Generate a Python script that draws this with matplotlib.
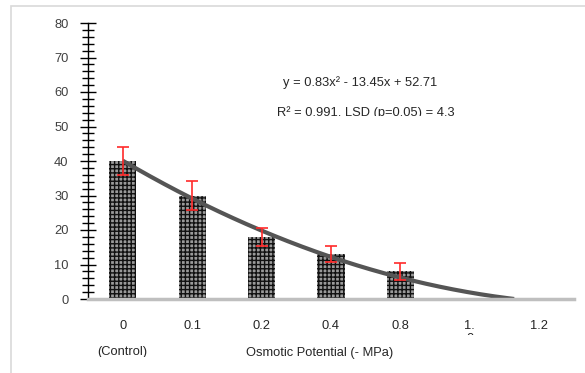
import matplotlib
matplotlib.use("Agg")
import matplotlib.pyplot as plt
import numpy as np
from matplotlib.patches import Rectangle
from matplotlib.transforms import Bbox

plt.rcParams['font.family'] = ['Liberation Sans Narrow', 'Liberation Sans', 'DejaVu Sans']
plt.rcParams['hatch.linewidth'] = 1.0

categories = ["0", "0.1", "0.2", "0.4", "0.8", "1.\n0", "1.2"]
bar_values = [40, 30, 18, 13, 8]
bar_errors = [4.2, 4.2, 2.5, 2.3, 2.5]
trend_coeffs = [0.83, -13.45, 52.71]  # y = a x^2 + b x + c, x = category number (1..)
y_ticks = [0, 10, 20, 30, 40, 50, 60, 70, 80]

W, H = 585, 373
FS = 9.3
fig = plt.figure(figsize=(W / 100, H / 100), dpi=100)
ax = fig.add_axes([88 / W, (H - 299) / H, (574 - 88) / W, (299 - 23) / H])

xpos = np.arange(len(bar_values))
ax.bar(xpos, bar_values, width=0.39, color='#9a9a9a', edgecolor='#111111',
       hatch='++++', linewidth=0, zorder=2)
ax.errorbar(xpos, bar_values, yerr=bar_errors, fmt='none', ecolor='#ff2a2a',
            elinewidth=1.2, capsize=4, capthick=1.2, zorder=4)

# polynomial trendline (from displayed equation), drawn until it reaches zero
a, b, c = trend_coeffs
root = (-b - np.sqrt(b * b - 4 * a * c)) / (2 * a)
xt = np.linspace(1, root, 200)
yt = a * xt ** 2 + b * xt + c
ax.plot(xt - 1, yt, color='#555555', lw=3, zorder=3, solid_capstyle='butt')

ax.set_xlim(-0.5, len(categories) - 0.5)
ax.set_ylim(0, 80)
ax.set_yticks(y_ticks)
ax.set_yticks(np.arange(0, 81, 2), minor=True)
ax.set_xticks(np.arange(len(categories)))
ax.set_xticklabels(categories)

for s in ['top', 'right']:
    ax.spines[s].set_visible(False)
ax.spines['left'].set_color('#000000')
ax.spines['left'].set_linewidth(1.0)
ax.spines['bottom'].set_color('#bfbfbf')
ax.spines['bottom'].set_linewidth(2.5)
ax.spines['bottom'].set_zorder(5)

ax.tick_params(axis='y', which='major', direction='inout', length=12, width=1,
               labelsize=FS, labelcolor='#404040', pad=8)
ax.tick_params(axis='y', which='minor', direction='inout', length=8, width=1)
ax.tick_params(axis='x', which='both', length=0, labelsize=FS, labelcolor='#262626', pad=15)

clipbox = Bbox([[0, H - 335], [W, H]])
for lbl in ax.get_xticklabels():
    lbl.set_linespacing(1.15)
    lbl.set_verticalalignment('top')
    lbl.set_clip_on(True)
    lbl.set_clip_box(clipbox)

t1 = fig.text(122 / W, 1 - 352 / H, "(Control)", ha='center', va='center',
              fontsize=FS, color='#262626')
t1.set_clip_on(True)
t1.set_clip_box(Bbox([[0, H - 357], [W, H]]))
fig.text(320 / W, 1 - 353 / H, "Osmotic Potential (- MPa)", ha='center', va='center',
         fontsize=FS, color='#262626')

fig.text(360 / W, 1 - 83 / H, "y = 0.83x² - 13.45x + 52.71", ha='center', va='center',
         fontsize=FS, color='#262626')
t2 = fig.text(366 / W, 1 - 113 / H, "R² = 0.991, LSD (p=0.05) = 4.3", ha='center', va='center',
              fontsize=FS, color='#262626')
t2.set_clip_on(True)
t2.set_clip_box(Bbox([[0, H - 116], [W, H]]))

# outer chart-area border (partially visible)
fig.patches.append(Rectangle((11 / W, -0.1), 1.2, (H - 6) / H + 0.1, transform=fig.transFigure,
                             fill=False, edgecolor='#d9d9d9', lw=1.2))

fig.savefig("out.png", dpi=100)
